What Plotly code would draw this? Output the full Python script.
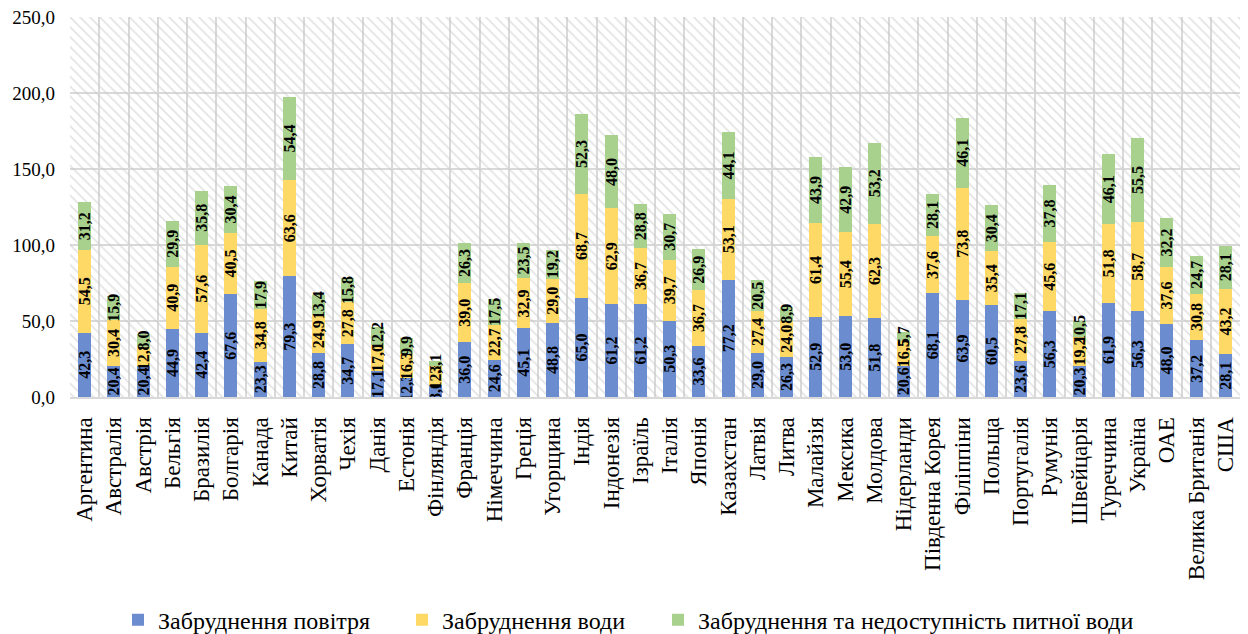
import plotly.graph_objects as go

countries = [
    "Аргентина", "Австралія", "Австрія", "Бельгія", "Бразилія", "Болгарія",
    "Канада", "Китай", "Хорватія", "Чехія", "Данія", "Естонія", "Фінляндія",
    "Франція", "Німеччина", "Греція", "Угорщина", "Індія", "Індонезія",
    "Ізраїль", "Італія", "Японія", "Казахстан", "Латвія", "Литва",
    "Малайзія", "Мексика", "Молдова", "Нідерланди", "Південна Корея",
    "Філіппіни", "Польща", "Португалія", "Румунія", "Швейцарія",
    "Туреччина", "Україна", "ОАЕ", "Велика Британія", "США",
]

air = [42.3, 20.4, 20.4, 44.9, 42.4, 67.6, 23.3, 79.3, 28.8, 34.7, 17.1, 12.3,
       8.0, 36.0, 24.6, 45.1, 48.8, 65.0, 61.2, 61.2, 50.3, 33.6, 77.2, 29.0,
       26.3, 52.9, 53.0, 51.8, 20.6, 68.1, 63.9, 60.5, 23.6, 56.3, 20.3, 61.9,
       56.3, 48.0, 37.2, 28.1]

water = [54.5, 30.4, 12.8, 40.9, 57.6, 40.5, 34.8, 63.6, 24.9, 27.8, 17.0, 16.3,
         12.3, 39.0, 22.7, 32.9, 29.0, 68.7, 62.9, 36.7, 39.7, 36.7, 53.1, 27.4,
         24.0, 61.4, 55.4, 62.3, 16.5, 37.6, 73.8, 35.4, 27.8, 45.6, 19.2, 51.8,
         58.7, 37.6, 30.8, 43.2]

drinking = [31.2, 15.9, 8.0, 29.9, 35.8, 30.4, 17.9, 54.4, 13.4, 15.8, 12.2, 9.9,
            3.1, 26.3, 17.5, 23.5, 19.2, 52.3, 48.0, 28.8, 30.7, 26.9, 44.1, 20.5,
            8.9, 43.9, 42.9, 53.2, 5.7, 28.1, 46.1, 30.4, 17.1, 37.8, 10.5, 46.1,
            55.5, 32.2, 24.7, 28.1]

series = [
    ("Забруднення повітря", air, "#6B8DD0"),
    ("Забруднення води", water, "#FFD966"),
    ("Забруднення та недоступність питної води", drinking, "#A9D18E"),
]

Y_MAX = 250
SERIF = "Times New Roman, Liberation Serif, serif"
GRID = "#d9d9d9"

fig = go.Figure()

# hatched plot background: one transparent patterned column per category
fig.add_trace(go.Bar(
    x=countries, y=[Y_MAX] * len(countries), width=1,
    marker=dict(color="rgba(0,0,0,0)", line=dict(width=0),
                pattern=dict(shape="\\", fgcolor="#c8c8c8", bgcolor="rgba(0,0,0,0)",
                             size=7, solidity=0.24)),
    showlegend=False, hoverinfo="skip", yaxis="y",
))

legend_names = ["legend", "legend2", "legend3"]
for (name, vals, color), lg in zip(series, legend_names):
    fig.add_trace(go.Bar(
        name=name, x=countries, y=vals, yaxis="y2", legend=lg,
        marker=dict(color=color, line=dict(width=0)),
        texttemplate="%{y:.1f}", textposition="inside",
        insidetextanchor="middle", textangle=-90,
        textfont=dict(family=SERIF, size=16, color="black", weight="bold"),
    ))

legend_style = dict(
    orientation="h", xref="container", yref="container",
    y=0.022, xanchor="left", yanchor="middle",
    font=dict(family=SERIF, size=24), bgcolor="rgba(0,0,0,0)",
)

fig.update_layout(
    width=1248, height=634,
    barmode="stack", bargap=0.56,
    separators=", ",
    paper_bgcolor="white", plot_bgcolor="white",
    margin=dict(l=70, r=8, t=17, b=237),
    font=dict(family=SERIF, color="black"),
    uniformtext=dict(minsize=16, mode="show"),
    xaxis=dict(
        type="category", tickson="boundaries", tickangle=-90,
        showgrid=True, gridcolor=GRID, gridwidth=1.5,
        showline=True, linecolor=GRID, linewidth=2,
        ticks="", ticklabelstandoff=9,
        tickfont=dict(family=SERIF, size=23),
    ),
    yaxis=dict(
        range=[0, Y_MAX], dtick=50, tickformat=".1f",
        showgrid=True, gridcolor=GRID, gridwidth=1.5,
        zeroline=False, showline=False, ticks="", ticklabelstandoff=14,
        tickfont=dict(family=SERIF, size=19),
    ),
    yaxis2=dict(range=[0, Y_MAX], overlaying="y", visible=False),
    legend=dict(x=118 / 1248, **legend_style),
    legend2=dict(x=402 / 1248, **legend_style),
    legend3=dict(x=658 / 1248, **legend_style),
)

fig.write_html("out.html")
